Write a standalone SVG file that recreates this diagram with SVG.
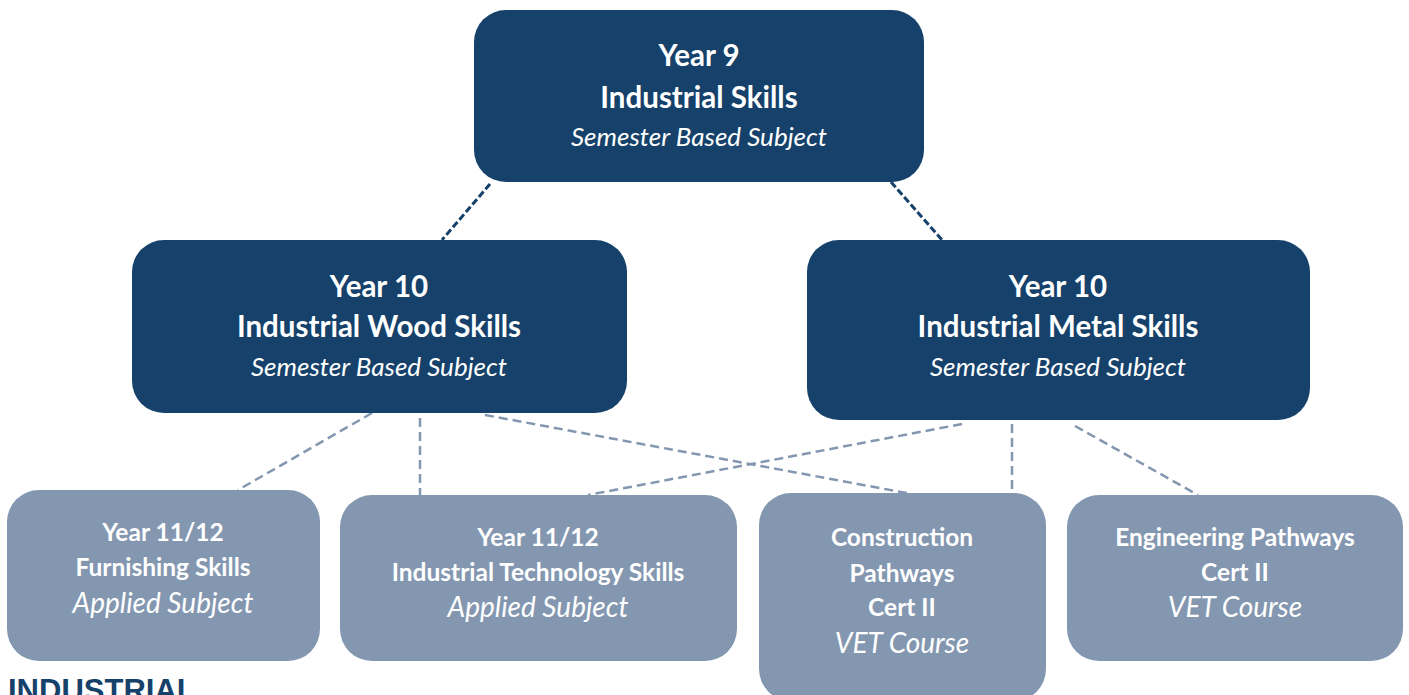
<svg xmlns="http://www.w3.org/2000/svg" width="1409" height="695" viewBox="0 0 1409 695">
<style>
.dark{fill:#15416A}
.light{fill:#8497B0}
text{font-family:Lato,"Open Sans",sans-serif;fill:#FFFFFF;text-anchor:middle}
.b1{font-weight:bold;font-size:29.5px}
.i1{font-style:italic;font-size:26px}
.b2{font-weight:bold;font-size:24.5px}
.i2{font-style:italic;font-size:28px}
.cd{stroke:#15416A;stroke-width:3;stroke-dasharray:7 3;fill:none}
.cl{stroke:#8497B0;stroke-width:2.5;stroke-dasharray:9 5;fill:none}
.title{font-family:"Liberation Sans",Arial,sans-serif;font-weight:bold;font-size:31px;fill:#15416A;text-anchor:start}
</style>
<rect width="1409" height="695" fill="#FFFFFF"/>
<g id="connectors">
<line class="cd" x1="490" y1="184" x2="442" y2="240"/>
<line class="cd" x1="891" y1="182" x2="942" y2="240"/>
<line class="cl" x1="372" y1="413" x2="238" y2="490"/>
<line class="cl" x1="420" y1="418" x2="420" y2="495"/>
<line class="cl" x1="485" y1="415" x2="912" y2="494"/>
<line class="cl" x1="962" y1="424" x2="588" y2="495"/>
<line class="cl" x1="1012" y1="424" x2="1012" y2="493"/>
<line class="cl" x1="1075" y1="426" x2="1198" y2="495"/>
</g>
<g id="year9">
<rect class="dark" x="474" y="10" width="450" height="172" rx="32"/>
<text class="b1" x="699" y="66">Year 9</text>
<text class="b1" x="699" y="108">Industrial Skills</text>
<text class="i1" x="699" y="146">Semester Based Subject</text>
</g>
<g id="year10wood">
<rect class="dark" x="132" y="240" width="495" height="173" rx="32"/>
<text class="b1" x="379" y="297">Year 10</text>
<text class="b1" x="379" y="337">Industrial Wood Skills</text>
<text class="i1" x="379" y="376">Semester Based Subject</text>
</g>
<g id="year10metal">
<rect class="dark" x="807" y="240" width="503" height="180" rx="32"/>
<text class="b1" x="1058" y="297">Year 10</text>
<text class="b1" x="1058" y="337">Industrial Metal Skills</text>
<text class="i1" x="1058" y="376">Semester Based Subject</text>
</g>
<g id="furnishing">
<rect class="light" x="7" y="490" width="313" height="171" rx="32"/>
<text class="b2" x="163" y="541">Year 11/12</text>
<text class="b2" x="163" y="576">Furnishing Skills</text>
<text class="i2" x="163" y="613">Applied Subject</text>
</g>
<g id="industrialtech">
<rect class="light" x="340" y="495" width="397" height="166" rx="32"/>
<text class="b2" x="538" y="546">Year 11/12</text>
<text class="b2" x="538" y="581">Industrial Technology Skills</text>
<text class="i2" x="538" y="617">Applied Subject</text>
</g>
<g id="construction">
<rect class="light" x="759" y="493" width="287" height="208" rx="32"/>
<text class="b2" x="902" y="546">Construction</text>
<text class="b2" x="902" y="582">Pathways</text>
<text class="b2" x="902" y="616">Cert II</text>
<text class="i2" x="902" y="653">VET Course</text>
</g>
<g id="engineering">
<rect class="light" x="1067" y="495" width="336" height="166" rx="32"/>
<text class="b2" x="1235" y="546">Engineering Pathways</text>
<text class="b2" x="1235" y="581">Cert II</text>
<text class="i2" x="1235" y="617">VET Course</text>
</g>
<text class="title" x="8" y="701">INDUSTRIAL</text>
</svg>
